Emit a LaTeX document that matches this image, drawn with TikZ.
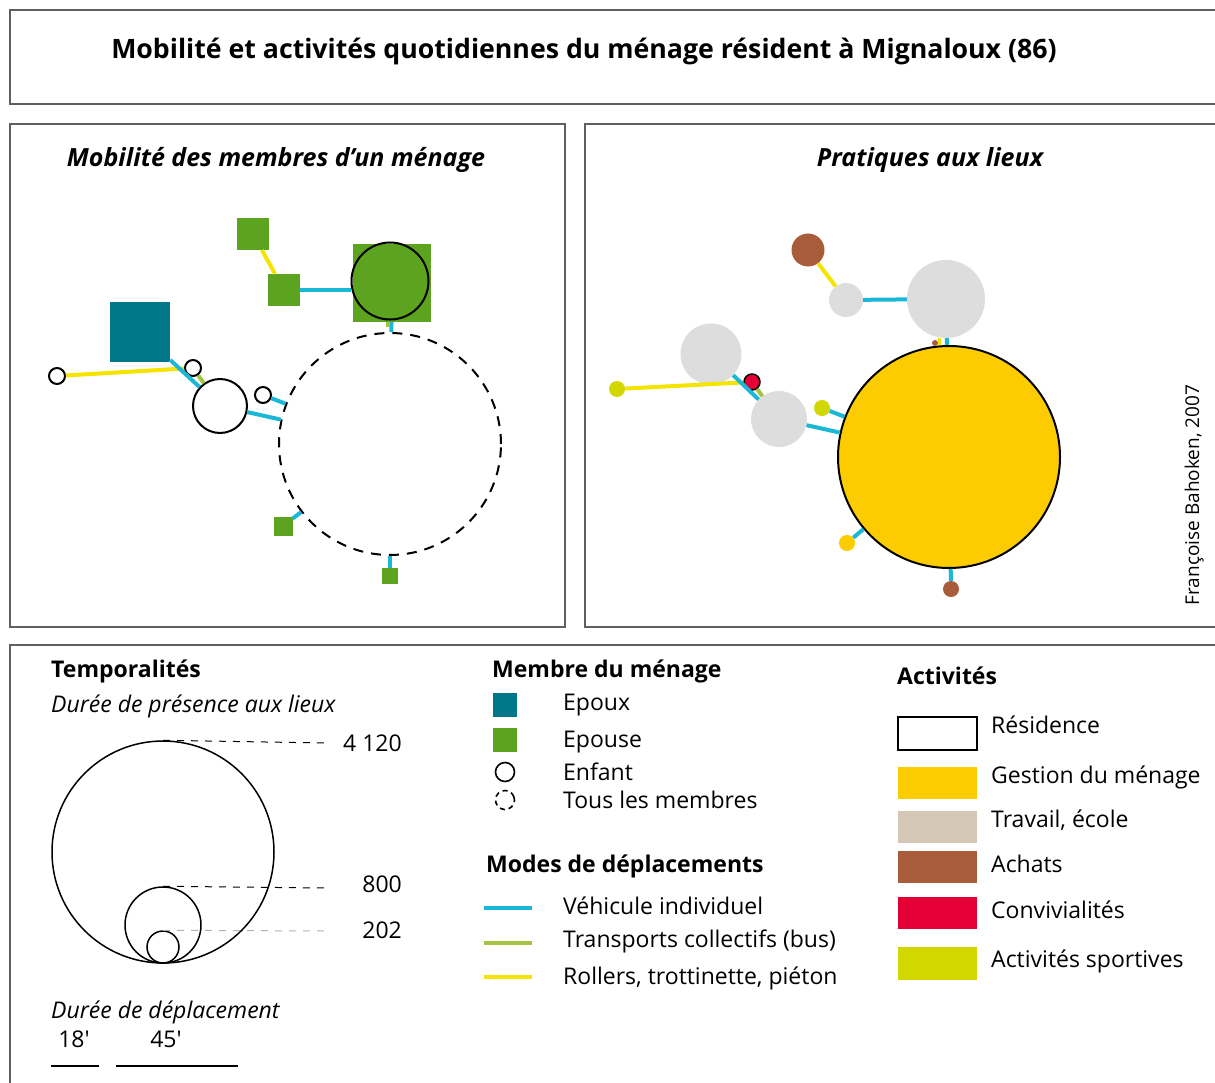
\documentclass[tikz,border=0pt]{standalone}
\usepackage{fontspec}
\setmainfont{Open Sans}
\usetikzlibrary{calc}

\definecolor{cadre}{RGB}{95,95,95}
\definecolor{epoux}{RGB}{0,120,138}
\definecolor{epouse}{RGB}{92,164,32}
\definecolor{voiture}{RGB}{26,183,214}
\definecolor{bus}{RGB}{163,196,64}
\definecolor{pieton}{RGB}{245,228,0}
\definecolor{gestion}{RGB}{252,204,0}
\definecolor{lieugris}{RGB}{221,221,221}
\definecolor{travail}{RGB}{212,199,182}
\definecolor{achats}{RGB}{168,92,58}
\definecolor{conviv}{RGB}{228,0,52}
\definecolor{sport}{RGB}{210,215,0}

\newcommand{\corps}{\fontsize{23}{28}\selectfont}

\begin{document}
\begin{tikzpicture}[x=1pt,y=-1pt,font=\corps,
  cadrestyle/.style={draw=cadre,line width=1.3pt},
  textestyle/.style={inner sep=0,anchor=base west},
  epouxstyle/.style={rectangle,fill=epoux,inner sep=0,minimum size=#1},
  epousestyle/.style={rectangle,fill=epouse,inner sep=0,minimum size=#1},
  enfantstyle/.style={circle,draw,line width=2pt,fill=white,inner sep=0,minimum size=#1},
  tousstyle/.style={circle,draw,line width=2pt,dash pattern=on 10pt off 8pt,inner sep=0,minimum size=#1},
  lieustyle/.style={circle,fill=lieugris,inner sep=0,minimum size=#1},
  voiturestyle/.style={draw=voiture,line width=4pt},
  busstyle/.style={draw=bus,line width=4pt},
  pietonstyle/.style={draw=pieton,line width=4pt}]
\useasboundingbox (0,0) rectangle (1215,1083);

% cadres
\draw[cadrestyle] (1215,10) -- (10,10) -- (10,104) -- (1215,104);
\draw[cadrestyle] (10,124) rectangle (565,627);
\draw[cadrestyle] (1215,124) -- (585,124) -- (585,627) -- (1215,627);
\draw[cadrestyle] (1215,645) -- (10,645) -- (10,1083);

\node[font=\fontsize{26.7}{32}\selectfont\bfseries,anchor=base] (titre) at (584,59)
  {Mobilité et activités quotidiennes du ménage résident à Mignaloux (86)};
\node[font=\fontsize{25}{30}\selectfont\bfseries\itshape,anchor=base] (titreA) at (276,167)
  {Mobilité des membres d'un ménage};
\node[font=\fontsize{25}{30}\selectfont\bfseries\itshape,anchor=base] (titreB) at (930,167)
  {Pratiques aux lieux};
\node[font=\fontsize{19}{23}\selectfont,rotate=90,anchor=base] (auteur) at (1199,495)
  {Françoise Bahoken, 2007};

% mobilite des membres
\node[epousestyle=32] (epA) at (253,234) {};
\node[epousestyle=32] (epB) at (284,290) {};
\node[epousestyle=78] (epC) at (392,283) {};
\node[enfantstyle=77,fill=none] (enC) at (390,281) {};
\node[epouxstyle=60] (exD) at (140,332) {};
\node[enfantstyle=16] (enE) at (57,376) {};
\node[enfantstyle=16] (enF) at (193,368) {};
\node[enfantstyle=54] (enG) at (220,406) {};
\node[enfantstyle=16] (enH) at (263,395) {};
\node[tousstyle=222] (tousI) at (390,444) {};
\node[epousestyle=19] (epJ) at (283,526) {};
\node[epousestyle=16] (epK) at (390,576) {};

\draw[pietonstyle] (epA) -- (epB);
\draw[voiturestyle] (epB) -- (epB -| enC.west);
\draw[pietonstyle] (enE) -- (enF);
\draw[voiturestyle] (exD) -- (enG);
\draw[busstyle] (enF) -- (enG);
\draw[voiturestyle] (enH) -- (tousI);
\draw[voiturestyle] (enG) -- (tousI);
\draw[voiturestyle] (epJ) -- (tousI);
\draw[voiturestyle] (epK) -- (tousI);
\draw[voiturestyle] (epC) -- (tousI);
\draw[busstyle] ([xshift=-4]epC.south) -- ([xshift=-4,yshift=-5]epC.south);

% pratiques aux lieux
\node[lieustyle=78] (trM) at (946,299) {};
\node[lieustyle=34] (trN) at (846,300) {};
\node[lieustyle=33,fill=achats] (acO) at (808,250) {};
\node[lieustyle=61] (trP) at (711,354) {};
\node[lieustyle=56] (trS) at (779,419) {};
\node[lieustyle=222,fill=gestion,draw,line width=2pt] (geL) at (949,457) {};
\node[lieustyle=16,fill=conviv,draw,line width=1.5pt] (coQ) at (752,382) {};
\node[lieustyle=16,fill=sport] (spR) at (617,389) {};
\node[lieustyle=16,fill=sport] (spT) at (822,408) {};
\node[lieustyle=16,fill=gestion] (geU) at (847,543) {};
\node[lieustyle=16,fill=achats] (acV) at (951,589) {};
\node[lieustyle=6,fill=achats] (acW) at (935,343) {};

\draw[pietonstyle] (acO) -- (trN);
\draw[voiturestyle] (trN) -- (trM);
\draw[voiturestyle] (trM) -- (geL);
\draw[pietonstyle,line width=3pt] ([xshift=-7]trM.south) -- ([xshift=-7,yshift=-7]trM.south);
\draw[pietonstyle] (spR) -- (coQ);
\draw[voiturestyle] (trP) -- (trS);
\draw[busstyle] (coQ) -- (trS);
\draw[voiturestyle] (trS) -- (geL);
\draw[voiturestyle] (spT) -- (geL);
\draw[voiturestyle] (geU) -- (geL);
\draw[voiturestyle] (acV) -- (geL);

% temporalites
\node[textestyle,font=\corps\bfseries] (tempo) at (51,677) {Temporalités};
\node[textestyle,font=\corps\itshape] (presence) at (51,712) {Durée de présence aux lieux};
\foreach \r/\val/\y/\b/\col in {111/4 120/743/751/black,38/800/888/892/black,16/202/931/938/black!30}
  {\node[circle,draw,line width=1.5pt,inner sep=0,minimum size=2*\r] (cercle\r) at (163,963-\r) {};
   \draw[\col,line width=1pt,dash pattern=on 7pt off 7pt] (cercle\r.north) -- (325,\y);
   \node[inner sep=0,anchor=base east] (val\r) at (402,\b) {\val};}
\node[textestyle,font=\corps\itshape] (deplacement) at (51,1018) {Durée de déplacement};
\node[anchor=base] (d18) at (74,1047) {18\textquotesingle};
\node[anchor=base] (d45) at (166,1047) {45\textquotesingle};
\draw[line width=2pt] (51,1066) -- (99,1066);
\draw[line width=2pt] (116,1066) -- (238,1066);

% membres du menage
\node[textestyle,font=\corps\bfseries] (membre) at (492,677) {Membre du ménage};
\node[epouxstyle=24] (legepoux) at (505,705) {};
\node[epousestyle=24] (legepouse) at (505,740) {};
\node[enfantstyle=19,line width=1.6pt] (legenfant) at (505,772) {};
\node[tousstyle=19,line width=1.6pt,dash pattern=on 5pt off 4pt,rotate=20] (legtous) at (505,800) {};
\foreach \b/\t in {710/Epoux,747/Epouse,780/Enfant,808/Tous les membres}
  \node[textestyle] at (563,\b) {\t};

% modes de deplacements
\node[textestyle,font=\corps\bfseries] (modes) at (486,872) {Modes de déplacements};
\foreach \y/\s/\b/\t in {908/voiturestyle/914/Véhicule individuel,
                        943/busstyle/947/Transports collectifs (bus),
                        977/pietonstyle/984/{Rollers, trottinette, piéton}}
  {\draw[\s] (484,\y) -- (532,\y);
   \node[textestyle] at (563,\b) {\t};}

% activites
\node[textestyle,font=\corps\bfseries] (activites) at (897,684) {Activités};
\draw[line width=2pt] (898,717) rectangle (977,750);
\node[textestyle] at (991,733) {Résidence};
\foreach \ya/\yb/\col/\b/\t in {767/799/gestion/783/Gestion du ménage,
                                811/843/travail/827/{Travail, école},
                                851/883/achats/872/Achats,
                                897/929/conviv/918/Convivialités,
                                947/980/sport/967/Activités sportives}
  {\fill[\col] (898,\ya) rectangle (977,\yb);
   \node[textestyle] at (991,\b) {\t};}
\end{tikzpicture}
\end{document}
